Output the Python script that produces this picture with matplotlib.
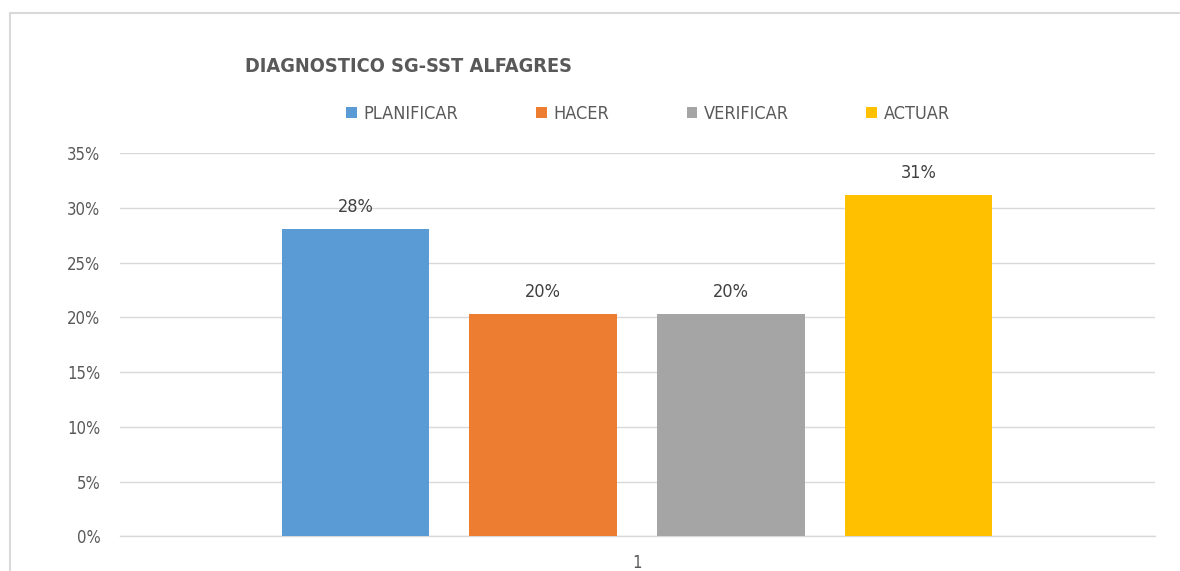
import matplotlib.pyplot as plt
from matplotlib.lines import Line2D
from matplotlib.ticker import PercentFormatter

# Datos del grafico
series = ['PLANIFICAR', 'HACER', 'VERIFICAR', 'ACTUAR']
valores = [0.281, 0.203, 0.203, 0.312]
etiquetas = ['28%', '20%', '20%', '31%']
categoria = '1'
colores = ['#5B9BD5', '#ED7D31', '#A5A5A5', '#FFC000']

plt.rcParams['font.family'] = ['DejaVu Sans']
plt.rcParams['font.stretch'] = 'condensed'

fig = plt.figure(figsize=(11.8, 5.71), dpi=100)
ax = fig.add_axes([120 / 1180, 1 - 536.3 / 571, 1035 / 1180, (536.3 - 153.3) / 571])

# Barras agrupadas en una sola categoria
for i, (nombre, v, et, c) in enumerate(zip(series, valores, etiquetas, colores)):
    x = i - 1.5
    ax.bar(x, v, width=0.786, color=c, label=nombre, zorder=3)
    ax.annotate(et, (x, v), xytext=(0, 16), textcoords='offset points',
                ha='center', va='center', fontsize=13, color='#404040')

ax.set_xlim(-2.755, 2.76)
ax.set_ylim(0, 0.35)
ax.set_yticks([0, 0.05, 0.10, 0.15, 0.20, 0.25, 0.30, 0.35])
ax.yaxis.set_major_formatter(PercentFormatter(1.0, decimals=0))
ax.set_xticks([0])
ax.set_xticklabels([categoria])

ax.grid(axis='y', color='#D9D9D9', linewidth=1, zorder=0)
ax.axhline(0, color='#D9D9D9', linewidth=1, zorder=2, clip_on=False)
for s in ax.spines.values():
    s.set_visible(False)
ax.tick_params(axis='both', length=0, labelsize=12, colors='#595959')
ax.tick_params(axis='y', pad=14)
ax.tick_params(axis='x', pad=13)

# Titulo y leyenda
fig.text(245 / 1180, 1 - 66 / 571, 'DIAGNOSTICO SG-SST ALFAGRES', fontsize=14.3,
         fontweight='bold', color='#595959', ha='left', va='center')
leg = fig.legend(loc='center', bbox_to_anchor=(648 / 1180, 1 - 114 / 571), ncol=4,
                 frameon=False, fontsize=13, handlelength=0.6, handleheight=0.6,
                 handletextpad=0.35, columnspacing=4.3)
for t in leg.get_texts():
    t.set_color('#595959')

# Borde del area del grafico
fig.add_artist(Line2D([10 / 1180, 1], [1 - 13 / 571, 1 - 13 / 571], color='#D9D9D9', lw=1.5))
fig.add_artist(Line2D([10 / 1180, 10 / 1180], [0, 1 - 13 / 571], color='#D9D9D9', lw=1.5))

plt.savefig('out.png', dpi=100)
